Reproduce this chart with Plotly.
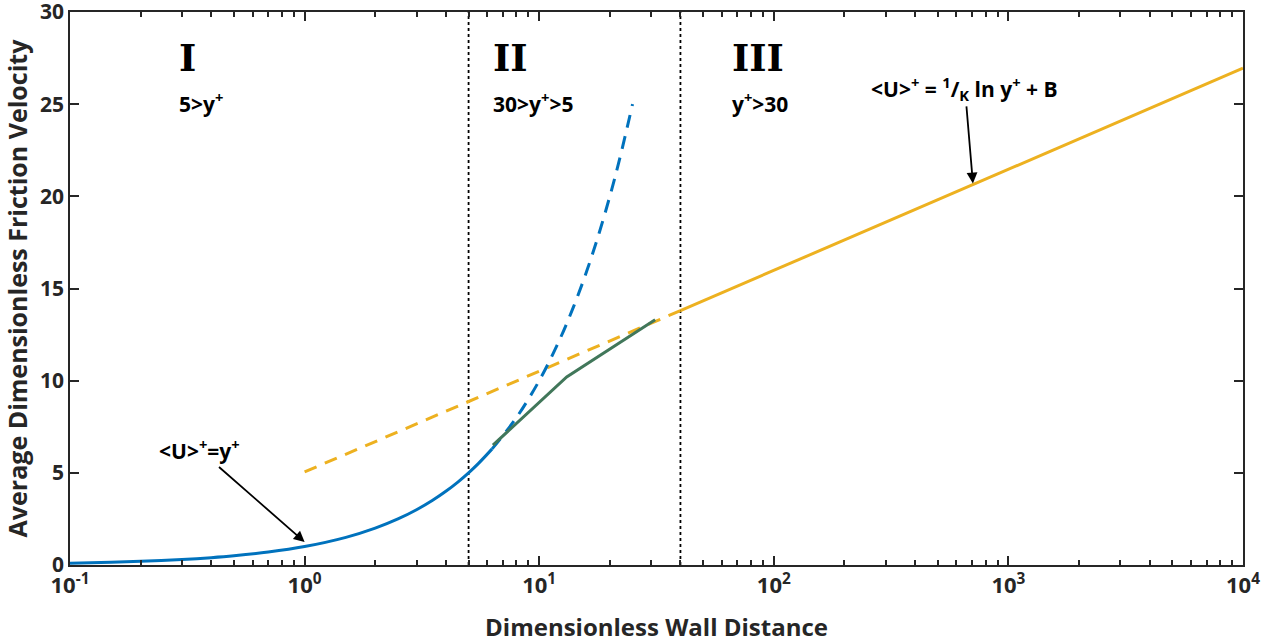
import math
import plotly.graph_objects as go

# Viscous sublayer <U>+ = y+
visc_x = [0.1, 0.15, 0.2, 0.3, 0.4, 0.5, 0.7, 1.0, 1.5, 2.0, 2.5, 3.0, 3.5, 4.0, 4.5, 5.0, 5.5, 6.3]
visc_y = [0.1, 0.15, 0.2, 0.3, 0.4, 0.5, 0.7, 1.0, 1.5, 2.0, 2.5, 3.0, 3.5, 4.0, 4.5, 5.0, 5.5, 6.3]

# Extension of the linear law into the buffer layer
visc_ext_x = [6.3, 8, 10, 12, 14, 16, 18, 20, 22, 25]
visc_ext_y = [6.3, 8, 10, 12, 14, 16, 18, 20, 22, 25]

# Buffer layer fit
buffer_x = [6.35, 13.1, 31.2]
buffer_y = [6.5, 10.2, 13.3]

# Log law, extended (dashed) and in its valid range (solid)
log_ext_x = [1, 40]
log_ext_y = [5.05, 13.8]
log_x = [40, 10000]
log_y = [13.8, 26.95]

# Region boundaries
bounds = [5, 40]

# Region labels: numeral, range text, left x position
region_numerals = ["I", "II", "III"]
region_ranges = ["5&gt;y<sup>+</sup>", "30&gt;y<sup>+</sup>&gt;5", "y<sup>+</sup>&gt;30"]
region_x = [0.285, 6.25, 65]

BLUE = "#0072BD"
GOLD = "#EDB120"
GREEN = "#41775A"
INK = "#262626"
FONT = "Open Sans"

fig = go.Figure()

for b in bounds:
    fig.add_trace(go.Scatter(x=[b, b], y=[0, 30], mode="lines",
                             line=dict(color="black", width=1.8, dash="dot"),
                             hoverinfo="skip", showlegend=False))

fig.add_trace(go.Scatter(x=log_ext_x, y=log_ext_y, mode="lines",
                         line=dict(color=GOLD, width=3, dash="13px,9px"), showlegend=False))
fig.add_trace(go.Scatter(x=log_x, y=log_y, mode="lines",
                         line=dict(color=GOLD, width=3), showlegend=False))
fig.add_trace(go.Scatter(x=visc_ext_x, y=visc_ext_y, mode="lines", line_shape="spline",
                         line=dict(color=BLUE, width=3, dash="13px,9px"), showlegend=False))
fig.add_trace(go.Scatter(x=visc_x, y=visc_y, mode="lines", line_shape="spline",
                         line=dict(color=BLUE, width=3), showlegend=False))
fig.add_trace(go.Scatter(x=buffer_x, y=buffer_y, mode="lines",
                         line=dict(color=GREEN, width=3), showlegend=False))

for numeral, rng, rx in zip(region_numerals, region_ranges, region_x):
    fig.add_annotation(x=math.log10(rx), y=27.5, text=numeral, showarrow=False,
                       xanchor="left", yanchor="middle",
                       font=dict(family="DejaVu Serif", size=37, color="black", weight="bold"))
    fig.add_annotation(x=math.log10(rx), y=25.1, text=rng, showarrow=False,
                       xanchor="left", yanchor="middle",
                       font=dict(family=FONT, size=21, color="black", weight="bold"))

fig.add_annotation(x=0, y=1.25, text="&lt;U&gt;<sup>+</sup>=y<sup>+</sup>",
                   showarrow=True, arrowhead=2, arrowsize=1.2, arrowwidth=1.8,
                   arrowcolor="black", ax=-105, ay=-92, standoff=0,
                   font=dict(family=FONT, size=21, color="black", weight="bold"))
fig.add_annotation(x=math.log10(706), y=20.7,
                   text="&lt;U&gt;<sup>+</sup> = <sup>1</sup>/<sub>K</sub> ln y<sup>+</sup> + B",
                   showarrow=True, arrowhead=2, arrowsize=1.2, arrowwidth=1.8,
                   arrowcolor="black", ax=-8, ay=-95, standoff=0,
                   font=dict(family=FONT, size=21, color="black", weight="bold"))

tick_vals = [0.1, 1, 10, 100, 1000, 10000]
tick_text = ["10<sup>-1</sup>", "10<sup>0</sup>", "10<sup>1</sup>",
             "10<sup>2</sup>", "10<sup>3</sup>", "10<sup>4</sup>"]

fig.update_xaxes(type="log", range=[-1, 4], tickvals=tick_vals, ticktext=tick_text,
                 ticks="inside", ticklen=9, tickwidth=1.5, tickcolor=INK,
                 minor=dict(ticks="inside", ticklen=5, tickwidth=1.5, tickcolor=INK,
                            tickvals=[m * 10 ** e for e in range(-1, 4) for m in range(2, 10)]),
                 showline=True, linecolor=INK, linewidth=1.8, mirror="allticks",
                 showgrid=False, zeroline=False, automargin=False,
                 ticklabeloverflow="allow",
                 tickfont=dict(family=FONT, size=22, color=INK, weight="bold"),
                 title=dict(text="Dimensionless Wall Distance", standoff=22,
                            font=dict(family=FONT, size=24, color=INK, weight="bold")))
fig.update_yaxes(range=[0, 30], tickvals=[0, 5, 10, 15, 20, 25, 30],
                 ticks="inside", ticklen=9, tickwidth=1.5, tickcolor=INK,
                 showline=True, linecolor=INK, linewidth=1.8, mirror="allticks",
                 showgrid=False, zeroline=False, automargin=False,
                 ticklabeloverflow="allow",
                 tickfont=dict(family=FONT, size=21, color=INK, weight="bold"),
                 title=dict(text="Average Dimensionless Friction Velocity", standoff=6,
                            font=dict(family=FONT, size=25, color=INK, weight="bold")))

fig.update_layout(width=1279, height=643, margin=dict(l=70, r=36, t=12, b=78),
                  plot_bgcolor="white", paper_bgcolor="white", showlegend=False)

fig.write_html("out.html")
